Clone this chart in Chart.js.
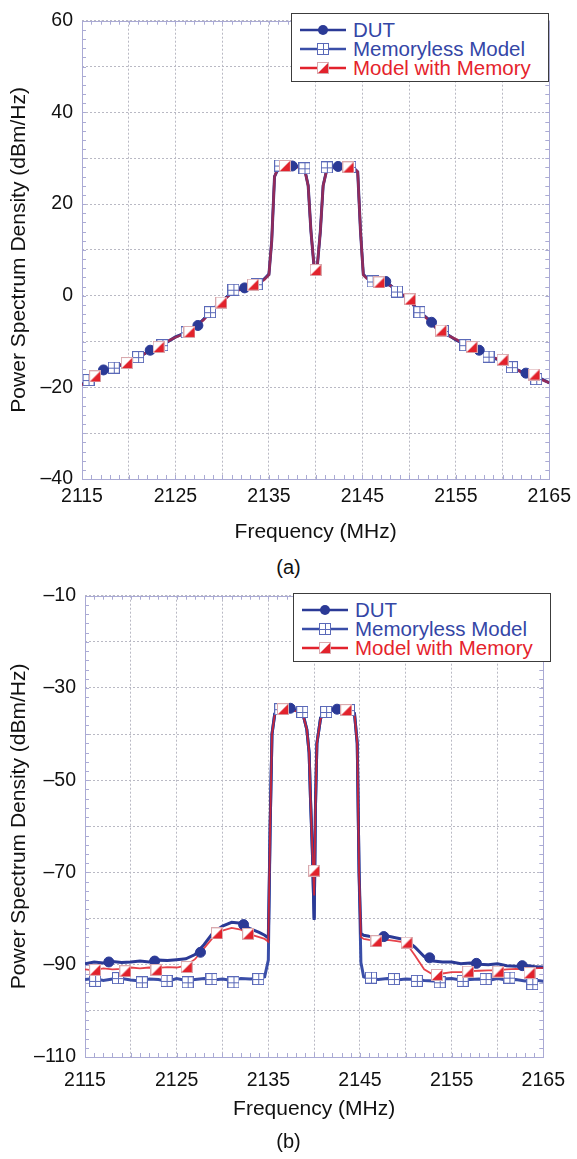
<!DOCTYPE html>
<html>
<head>
<meta charset="utf-8">
<title>Power Spectrum Density</title>
<script src="https://cdn.jsdelivr.net/npm/chart.js@4.4.1/dist/chart.umd.min.js"></script>
<style>
  html, body { margin: 0; padding: 0; background: #fff; }
  body { position: relative; width: 577px; height: 1159px; overflow: hidden;
         font-family: 'Liberation Sans', Arial, Helvetica, sans-serif; }
  .plot { position: absolute; left: 0; width: 577px; }
  .caption { position: absolute; left: 0; width: 577px; text-align: center;
             font-size: 20px; line-height: 24px; color: #111; }
  .legend { position: absolute; box-sizing: border-box; width: 258px; height: 69px;
            border: 1.5px solid #3c3c3c; background: #fff; }
  .legend .row { position: absolute; left: 0; height: 20px; width: 100%; }
  .legend canvas { position: absolute; left: 8px; top: 3px; }
  .legend span { position: absolute; left: 61px; top: 0; font-size: 20.5px;
                 line-height: 20px; white-space: nowrap; }
</style>
</head>
<body>

<div class="plot" style="top:0;height:545px"><canvas id="chartA"></canvas></div>
<div class="legend" style="left:291px;top:13px">
  <div class="row" style="top:6px"><canvas class="icon" data-k="dut" width="46" height="14"></canvas><span style="color:#3446a6">DUT</span></div>
  <div class="row" style="top:25px"><canvas class="icon" data-k="memless" width="46" height="14"></canvas><span style="color:#3446a6">Memoryless Model</span></div>
  <div class="row" style="top:44px"><canvas class="icon" data-k="memory" width="46" height="14"></canvas><span style="color:#e5232c">Model with Memory</span></div>
</div>
<div class="caption" style="top:555px">(a)</div>

<div class="plot" style="top:575px;height:555px"><canvas id="chartB"></canvas></div>
<div class="legend" style="left:293px;top:593px">
  <div class="row" style="top:6px"><canvas class="icon" data-k="dut" width="46" height="14"></canvas><span style="color:#3446a6">DUT</span></div>
  <div class="row" style="top:25px"><canvas class="icon" data-k="memless" width="46" height="14"></canvas><span style="color:#3446a6">Memoryless Model</span></div>
  <div class="row" style="top:44px"><canvas class="icon" data-k="memory" width="46" height="14"></canvas><span style="color:#e5232c">Model with Memory</span></div>
</div>
<div class="caption" style="top:1129px">(b)</div>

<script>
// ---- (a) spectrum, frequency in MHz, PSD in dBm/Hz ----
const freqA = [2115, 2116, 2117, 2118, 2119, 2120, 2121, 2122, 2123, 2124, 2125, 2126, 2127, 2128, 2129, 2130, 2131, 2132, 2133, 2134,
  2134.5, 2135, 2135.3, 2135.6,
  2136, 2137, 2138,
  2138.8, 2139.2, 2139.5, 2139.8,
  2140,
  2140.2, 2140.5, 2140.8, 2141.2,
  2142, 2143, 2144,
  2144.5, 2144.8, 2145.1, 2145.5,
  2146, 2147, 2148, 2149, 2150, 2151, 2152, 2153, 2154, 2155, 2156, 2157, 2158, 2159, 2160, 2161, 2162, 2163, 2164, 2165];

const dutA = [-19.4, -18.4, -16.6, -15.9, -15.2, -14.5, -13.5, -12.3, -11.4, -10.2, -9.0, -8.2, -7.0, -5.2, -3.0, -1.2, 0.6, 1.5, 2.2, 2.9,
  3.6, 4.6, 12, 26,
  27.8, 28.1, 28.2,
  27.8, 24, 14, 7,
  5.6,
  7, 14, 24, 27.6,
  28.1, 28.1, 28.0,
  27, 14, 4.6, 3.8,
  3.3, 3.1, 2.2, 0.6, -0.8, -3.4, -5.0, -7.3, -8.4, -9.6, -10.6, -11.4, -12.4, -13.6, -14.2, -15.6, -16.6, -17.1, -18.0, -19.0];

const memlessA = [-19.2, -18.5, -16.7, -15.8, -15.3, -14.4, -13.4, -12.4, -11.3, -10.3, -9.1, -8.1, -7.1, -5.1, -3.1, -1.1, 0.7, 1.6, 2.3, 3.0,
  3.7, 4.8, 12, 26,
  28.0, 28.2, 28.3,
  27.9, 24, 14, 7,
  5.8,
  7, 14, 24, 27.7,
  28.2, 28.2, 28.1,
  27, 14, 4.7, 3.9,
  3.2, 3.2, 2.3, 0.5, -0.9, -3.5, -5.1, -7.4, -8.3, -9.7, -10.7, -11.5, -12.5, -13.5, -14.3, -15.7, -16.5, -17.2, -18.1, -19.1];

const memoryA = [-19.5, -18.3, -16.7, -16.0, -15.1, -14.6, -13.6, -12.2, -11.5, -10.1, -9.1, -8.3, -6.9, -5.3, -2.9, -1.3, 0.5, 1.4, 2.2, 2.8,
  3.5, 4.6, 12, 26,
  27.9, 28.1, 28.1,
  27.7, 24, 14, 7,
  5.5,
  7, 14, 24, 27.5,
  28.0, 28.0, 27.9,
  27, 14, 4.5, 3.7,
  3.3, 3.0, 2.2, 0.7, -0.8, -3.3, -5.2, -7.2, -8.5, -9.5, -10.7, -11.3, -12.5, -13.5, -14.1, -15.5, -16.7, -17.0, -18.2, -19.0];

const dutMarkFreqA = [2117.3, 2122.3, 2127.4, 2132.4, 2137.5, 2142.4, 2147.5, 2152.4, 2157.5, 2162.5];
const dutMarkA = [-16.2, -11.9, -6.5, 1.7, 28.3, 28.2, 3.1, -5.8, -11.9, -16.9];

const memlessMarkFreqA = [2115.7, 2118.4, 2121.0, 2123.6, 2126.2, 2128.7, 2131.2, 2133.7, 2136.2, 2138.8,
  2141.2, 2143.7, 2146.1, 2148.7, 2151.1, 2153.6, 2156.0, 2158.5, 2161.0, 2163.6];
const memlessMarkA = [-18.4, -15.7, -13.4, -10.8, -8.0, -3.6, 1.3, 2.5, 28.4, 27.8,
  28.0, 28.1, 3.1, 0.9, -3.6, -7.7, -10.8, -13.3, -15.6, -18.2];

const memoryMarkFreqA = [2116.4, 2119.8, 2123.2, 2126.5, 2129.9, 2133.3, 2136.7, 2140.0, 2143.5, 2146.8, 2150.1, 2153.4, 2156.7, 2160.0, 2163.4];
const memoryMarkA = [-17.6, -14.7, -11.2, -7.9, -1.5, 2.4, 28.3, 5.6, 28.0, 2.9, -0.8, -7.6, -11.2, -14.0, -17.2];

// ---- (b) spectrum ----
const freqB = [2115, 2116, 2117, 2118, 2119, 2120, 2121, 2122, 2123, 2124, 2125, 2126, 2127, 2128, 2129, 2130, 2131, 2132, 2133, 2134,
  2134.6, 2135.0, 2135.2, 2135.4, 2135.7,
  2136, 2137, 2138,
  2138.8, 2139.2, 2139.45, 2139.6, 2139.8,
  2140,
  2140.15, 2140.3, 2140.7, 2141.2,
  2142, 2143, 2144,
  2144.4, 2144.7, 2144.9, 2145.1, 2145.4,
  2146, 2147, 2148, 2149, 2150, 2151, 2152, 2153, 2154, 2155, 2156, 2157, 2158, 2159, 2160, 2161, 2162, 2163, 2164, 2165];

const dutB = [-89.8, -89.4, -89.6, -89.3, -89.5, -89.4, -89.2, -89.4, -89.0, -89.1, -88.9, -88.7, -87.8, -85.6, -83.0, -81.6, -80.8, -81.0, -82.2, -83.0,
  -83.6, -84.2, -60, -40, -35.6,
  -35.0, -34.5, -34.8,
  -35.8, -39, -44, -54, -65,
  -80.3,
  -55, -42, -36.5, -35.2,
  -34.6, -34.8, -35.0,
  -35.5, -42, -70, -83.2, -83.6,
  -83.8, -84.0, -83.8, -84.2, -84.6, -86.2, -88.2, -89.2, -89.4, -89.4, -89.8, -89.6, -89.9, -90.0, -89.8, -90.2, -90.3, -90.1, -90.4, -90.6];

const memlessB = [-93.2, -93.0, -93.4, -93.1, -93.0, -93.3, -93.5, -93.1, -93.2, -93.6, -93.0, -93.4, -93.2, -93.0, -93.3, -93.1, -93.4, -93.0, -93.1, -93.0,
  -92.6, -89.0, -60, -40, -35.7,
  -35.1, -34.6, -34.9,
  -35.9, -39, -44, -54, -65,
  -80.0,
  -55, -42, -36.6, -35.3,
  -34.7, -34.9, -35.1,
  -35.6, -42, -70, -89.5, -92.6,
  -93.0, -93.2, -93.0, -93.3, -93.1, -93.2, -93.4, -93.5, -93.1, -93.0, -93.3, -93.2, -93.1, -93.4, -93.0, -93.3, -93.2, -93.5, -93.3, -93.6];

const memoryB = [-91.0, -91.2, -90.8, -91.0, -90.9, -90.6, -90.8, -90.6, -90.7, -90.5, -90.6, -90.2, -88.8, -86.4, -84.0, -82.6, -82.0, -82.4, -83.4, -84.0,
  -84.4, -85.0, -60, -40, -35.8,
  -35.2, -34.7, -35.0,
  -36.0, -39, -44, -54, -65,
  -75.0,
  -55, -42, -36.7, -35.4,
  -34.8, -35.0, -35.2,
  -35.7, -42, -70, -84.0, -84.4,
  -84.6, -84.8, -84.6, -84.9, -85.2, -88.0, -91.0, -92.2, -91.9, -91.6, -91.6, -91.4, -91.3, -91.2, -91.2, -91.0, -90.9, -91.0, -90.8, -90.7];

const dutMarkFreqB = [2117.6, 2122.6, 2127.6, 2132.3, 2137.4, 2142.5, 2147.6, 2152.6, 2157.7, 2162.7];
const dutMarkB = [-89.4, -89.2, -87.3, -81.3, -34.4, -34.6, -83.9, -88.5, -89.7, -90.2];

const memlessMarkFreqB = [2116.1, 2118.6, 2121.2, 2123.9, 2126.2, 2128.8, 2131.2, 2133.9, 2136.3, 2138.7,
  2141.3, 2143.8, 2146.2, 2148.7, 2151.2, 2153.7, 2156.2, 2158.7, 2161.3, 2163.8];
const memlessMarkB = [-93.5, -92.9, -93.8, -93.5, -93.8, -93.1, -93.8, -93.1, -34.6, -35.2,
  -35.2, -34.8, -92.8, -93.1, -93.5, -93.8, -93.5, -93.1, -92.8, -94.2];

const memoryMarkFreqB = [2116.1, 2119.4, 2122.8, 2126.1, 2129.4, 2132.8, 2136.6, 2140.0, 2143.5, 2146.8, 2150.1, 2153.4, 2156.8, 2160.1, 2163.5];
const memoryMarkB = [-91.1, -91.4, -91.1, -90.5, -83.2, -83.3, -34.6, -69.6, -34.8, -84.9, -85.2, -92.2, -91.5, -91.5, -91.8];

// ---- styling ----
const BLUE_DUT = '#2b3a96';
const BLUE_MEMLESS = '#3a4ea8';
const RED = '#e2222c';

// marker images (square with cross, square with red lower-right half)
function makeCrossSquare() {
  const c = document.createElement('canvas');
  c.width = 12; c.height = 12;
  const g = c.getContext('2d');
  g.fillStyle = '#fff';
  g.fillRect(0.5, 0.5, 11, 11);
  g.strokeStyle = '#5a69b8';
  g.lineWidth = 1;
  g.strokeRect(0.5, 0.5, 11, 11);
  g.beginPath();
  g.moveTo(6.5, 0.5); g.lineTo(6.5, 11.5);
  g.moveTo(0.5, 6.5); g.lineTo(11.5, 6.5);
  g.stroke();
  return c;
}

function makeHalfSquare() {
  const c = document.createElement('canvas');
  c.width = 12; c.height = 12;
  const g = c.getContext('2d');
  g.fillStyle = '#fff';
  g.fillRect(0.5, 0.5, 11, 11);
  g.fillStyle = RED;
  g.beginPath();
  g.moveTo(11.5, 0.5); g.lineTo(11.5, 11.5); g.lineTo(0.5, 11.5);
  g.closePath();
  g.fill();
  g.strokeStyle = '#d9a9ae';
  g.lineWidth = 1;
  g.strokeRect(0.5, 0.5, 11, 11);
  return c;
}

const crossSquare = makeCrossSquare();
const halfSquare = makeHalfSquare();

function pts(xs, ys) {
  return xs.map((x, i) => ({ x: x, y: ys[i] }));
}

function dash(v) {
  return v < 0 ? '\u2013' + (-v) : String(v);
}

// frame + small inner ticks along all four sides
const frameTicks = {
  id: 'frameTicks',
  beforeDatasetsDraw(chart) {
    const { ctx, chartArea: a, scales: { x, y } } = chart;
    ctx.save();
    ctx.strokeStyle = '#aaaad4';
    ctx.lineWidth = 1;
    ctx.beginPath();
    for (let f = x.min; f <= x.max; f += 1) {
      const px = Math.round(x.getPixelForValue(f)) + 0.5;
      ctx.moveTo(px, a.bottom); ctx.lineTo(px, a.bottom - 4);
      ctx.moveTo(px, a.top); ctx.lineTo(px, a.top + 4);
    }
    for (let v = y.min; v <= y.max; v += 2) {
      const py = Math.round(y.getPixelForValue(v)) + 0.5;
      ctx.moveTo(a.left, py); ctx.lineTo(a.left + 4, py);
      ctx.moveTo(a.right, py); ctx.lineTo(a.right - 4, py);
    }
    ctx.stroke();
    ctx.strokeRect(Math.round(a.left) + 0.5, Math.round(a.top) + 0.5, Math.round(a.width), Math.round(a.height));
    ctx.restore();
  }
};

function makeChart(id, d) {
  const ctx = document.getElementById(id).getContext('2d');
  return new Chart(ctx, {
    type: 'line',
    data: {
      datasets: [
        {
          label: 'Model with Memory markers',
          data: pts(d.memoryMarkFreq, d.memoryMark),
          showLine: false,
          pointStyle: halfSquare,
          pointRadius: 6,
          order: 0
        },
        {
          label: 'DUT markers',
          data: pts(d.dutMarkFreq, d.dutMark),
          showLine: false,
          pointStyle: 'circle',
          pointRadius: 5,
          pointBackgroundColor: BLUE_DUT,
          pointBorderColor: BLUE_DUT,
          pointBorderWidth: 1,
          order: 1
        },
        {
          label: 'Memoryless markers',
          data: pts(d.memlessMarkFreq, d.memlessMark),
          showLine: false,
          pointStyle: crossSquare,
          pointRadius: 6,
          order: 2
        },
        {
          label: 'Model with Memory',
          data: pts(d.freq, d.memory),
          borderColor: d.redLine,
          borderWidth: d.redWidth,
          pointRadius: 0,
          order: 3
        },
        {
          label: 'DUT',
          data: pts(d.freq, d.dut),
          borderColor: BLUE_DUT,
          borderWidth: 3,
          pointRadius: 0,
          order: 4
        },
        {
          label: 'Memoryless Model',
          data: pts(d.freq, d.memless),
          borderColor: BLUE_MEMLESS,
          borderWidth: d.memlessWidth,
          pointRadius: 0,
          order: 5
        }
      ]
    },
    options: {
      responsive: false,
      animation: false,
      events: [],
      layout: { autoPadding: false, padding: { top: d.top, right: d.right, bottom: 0, left: 0 } },
      plugins: {
        legend: { display: false },
        tooltip: { enabled: false }
      },
      scales: {
        x: {
          type: 'linear',
          min: 2115,
          max: 2165,
          afterFit: s => { s.height = d.xHeight; },
          ticks: {
            stepSize: 5,
            autoSkip: false,
            maxRotation: 0,
            padding: d.xTickPad,
            color: '#111',
            font: { size: 19.5 },
            callback: v => ((v - 2115) % 10 === 0 ? String(v) : '')
          },
          grid: { color: '#b9b9c4', lineWidth: 1, drawTicks: false },
          border: { display: false, dash: [2, 2] },
          title: {
            display: true,
            text: 'Frequency (MHz)',
            color: '#111',
            font: { size: 21 },
            padding: { top: 0, bottom: d.xTitlePad }
          }
        },
        y: {
          min: d.yMin,
          max: d.yMax,
          afterFit: s => { s.width = d.yWidth; },
          ticks: {
            stepSize: 10,
            autoSkip: false,
            padding: 9,
            color: '#111',
            font: { size: 19.5 },
            callback: v => ((v - d.yMax) % 20 === 0 ? dash(v) : '')
          },
          grid: { color: '#b9b9c4', lineWidth: 1, drawTicks: false },
          border: { display: false, dash: [2, 2] },
          title: {
            display: true,
            text: 'Power Spectrum Density (dBm/Hz)',
            color: '#111',
            font: { size: 21 },
            padding: { top: 7, bottom: 0 }
          }
        }
      }
    },
    plugins: [frameTicks]
  });
}

Chart.defaults.font.family = "'Liberation Sans', Arial, Helvetica, sans-serif";

const canvasA = document.getElementById('chartA');
canvasA.width = 577; canvasA.height = 545;
makeChart('chartA', {
  freq: freqA, dut: dutA, memless: memlessA, memory: memoryA,
  dutMarkFreq: dutMarkFreqA, dutMark: dutMarkA,
  memlessMarkFreq: memlessMarkFreqA, memlessMark: memlessMarkA,
  memoryMarkFreq: memoryMarkFreqA, memoryMark: memoryMarkA,
  yMin: -40, yMax: 60,
  top: 15, right: 27, yWidth: 82, xHeight: 66,
  xTickPad: 6, xTitlePad: 0,
  redLine: 'rgba(214, 34, 52, 0.6)', redWidth: 2.6, memlessWidth: 2.4
});

const canvasB = document.getElementById('chartB');
canvasB.width = 577; canvasB.height = 555;
makeChart('chartB', {
  freq: freqB, dut: dutB, memless: memlessB, memory: memoryB,
  dutMarkFreq: dutMarkFreqB, dutMark: dutMarkB,
  memlessMarkFreq: memlessMarkFreqB, memlessMark: memlessMarkB,
  memoryMarkFreq: memoryMarkFreqB, memoryMark: memoryMarkB,
  yMin: -110, yMax: -10,
  top: 19, right: 25, yWidth: 85, xHeight: 73,
  xTickPad: 12, xTitlePad: 8,
  redLine: 'rgba(226, 34, 44, 0.85)', redWidth: 1.8, memlessWidth: 3
});

// legend icons: short line with the series marker in the middle
document.querySelectorAll('canvas.icon').forEach(c => {
  const g = c.getContext('2d');
  const k = c.dataset.k;
  g.lineWidth = 2.5;
  g.strokeStyle = k === 'memory' ? RED : (k === 'dut' ? BLUE_DUT : BLUE_MEMLESS);
  g.beginPath();
  g.moveTo(0, 7); g.lineTo(46, 7);
  g.stroke();
  if (k === 'dut') {
    g.fillStyle = BLUE_DUT;
    g.beginPath();
    g.arc(23, 7, 5, 0, Math.PI * 2);
    g.fill();
  } else {
    g.drawImage(k === 'memory' ? halfSquare : crossSquare, 17, 1);
  }
});
</script>
</body>
</html>
